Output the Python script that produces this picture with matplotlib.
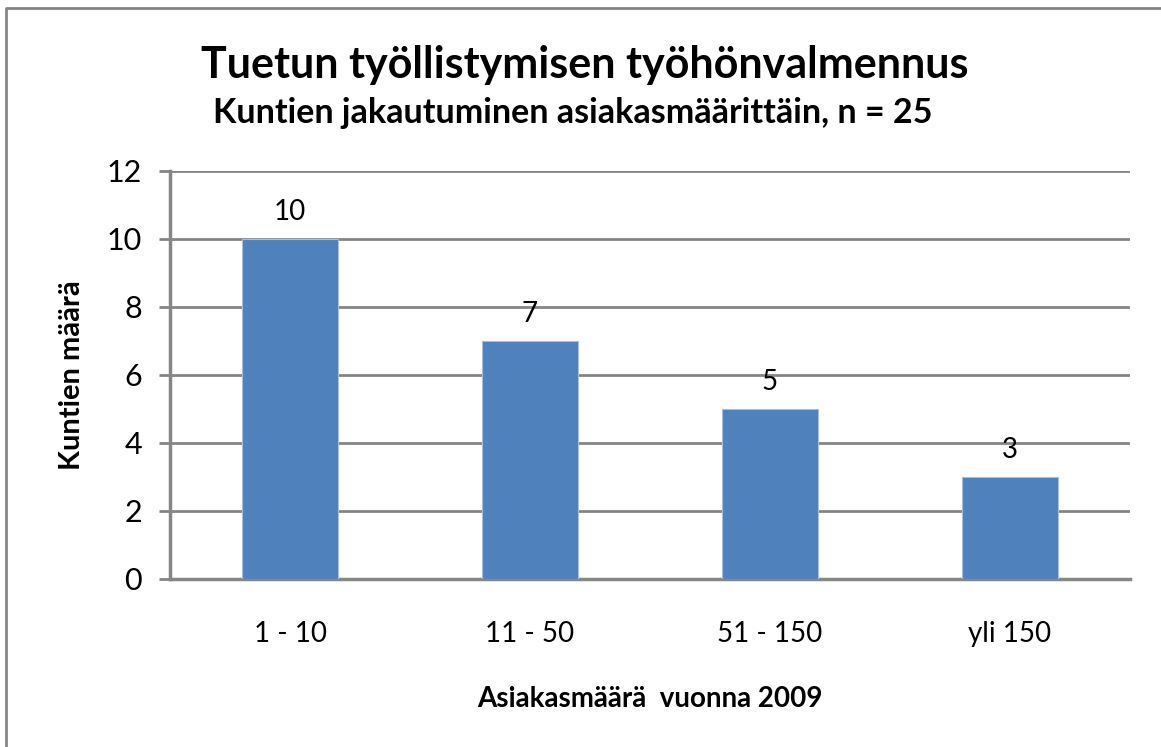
import matplotlib.pyplot as plt
from matplotlib.lines import Line2D

# data
categories = ['1 - 10', '11 - 50', '51 - 150', 'yli 150']
counts = [10, 7, 5, 3]
yticks = [0, 2, 4, 6, 8, 10, 12]

plt.rcParams['font.family'] = ['Lato', 'DejaVu Sans']

fig = plt.figure(figsize=(11.61, 7.47), dpi=100)
ax = fig.add_axes([170 / 1161, 1 - 579 / 747, 960 / 1161, 408 / 747])

x = range(len(categories))
bars = ax.bar(x, counts, width=0.4, color='#4F81BD', edgecolor='#A7C0DE',
              linewidth=0.8, zorder=3)
for b, v in zip(bars, counts):
    ax.text(b.get_x() + b.get_width() / 2, v + 0.4, str(v),
            ha='center', va='bottom', fontsize=20)

ax.set_xlim(-0.5, len(categories) - 0.5)
ax.set_ylim(0, 12)
ax.set_yticks(yticks)
ax.set_yticklabels([str(t) for t in yticks], fontsize=22)
ax.set_xticks(list(x))
ax.set_xticklabels(categories, fontsize=20)
ax.tick_params(axis='x', length=0, pad=30)
ax.tick_params(axis='y', length=8, width=2, color='#868686', pad=12)
ax.yaxis.grid(True, color='#868686', linewidth=2, zorder=0)

for s in ['top', 'right']:
    ax.spines[s].set_visible(False)
for s in ['left', 'bottom']:
    ax.spines[s].set_color('#868686')
    ax.spines[s].set_linewidth(2.5)

ax.set_ylabel('Kuntien määrä', fontsize=21, fontweight='bold', labelpad=16)
ax.set_xlabel('Asiakasmäärä  vuonna 2009', fontsize=20, fontweight='bold',
              labelpad=28)

fig.text(585 / 1161, 1 - 65 / 747, 'Tuetun työllistymisen työhönvalmennus',
         ha='center', va='center', fontsize=31, fontweight='bold')
fig.text(573 / 1161, 1 - 113 / 747, 'Kuntien jakautuminen asiakasmäärittäin, n = 25',
         ha='center', va='center', fontsize=24.5, fontweight='bold')

# outer chart border (only top and left edges are inside the picture)
fig.lines.append(Line2D([6 / 1161, 6 / 1161, 1.0], [0.0, 1 - 8 / 747, 1 - 8 / 747],
                        transform=fig.transFigure, color='#868686', linewidth=2))

fig.savefig('out.png', dpi=100)
